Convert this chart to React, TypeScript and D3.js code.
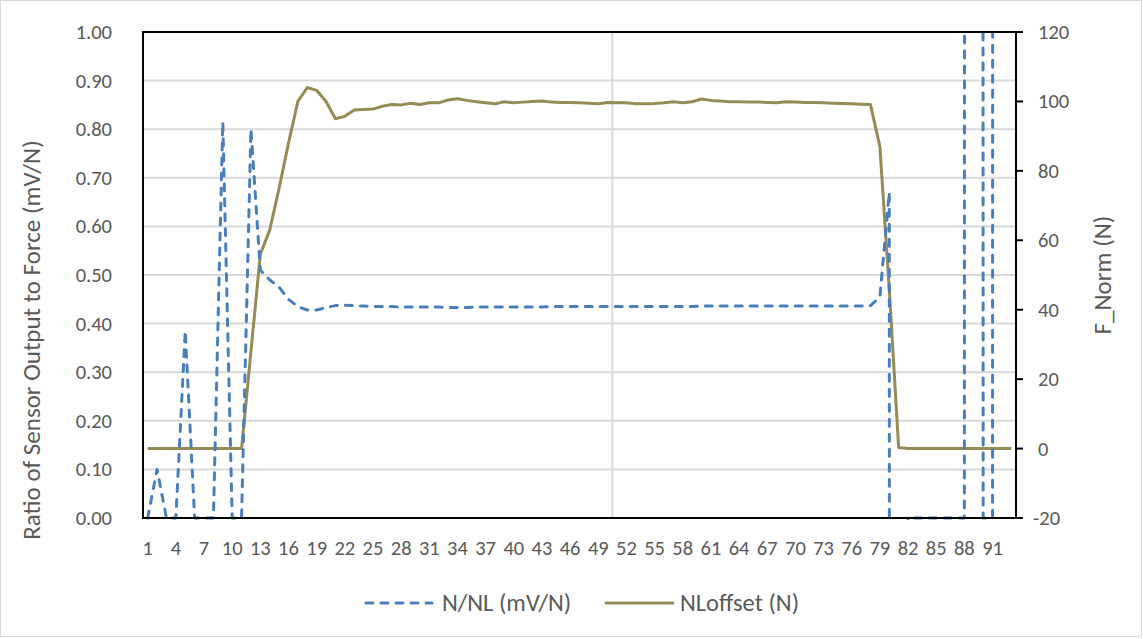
import React from "react";
import * as d3 from "d3";

// categories 1..93 along the x axis
const categories = d3.range(1, 94);

// N/NL (mV/N) - left axis, dashed blue
const ratioValues = [
  0, 0.1, 0, 0, 0.385, 0, 0, 0, 0.815, 0,
  0, 0.8, 0.51, 0.49, 0.475, 0.45, 0.435, 0.428, 0.428, 0.433,
  0.437, 0.438, 0.437, 0.436, 0.435, 0.435, 0.435, 0.434, 0.434, 0.434,
  0.434, 0.434, 0.433, 0.433, 0.433, 0.434, 0.434, 0.434, 0.434, 0.434,
  0.434, 0.434, 0.434, 0.435, 0.435, 0.435, 0.435, 0.435, 0.435, 0.435,
  0.435, 0.435, 0.435, 0.435, 0.435, 0.435, 0.435, 0.435, 0.435, 0.436,
  0.436, 0.436, 0.436, 0.436, 0.436, 0.436, 0.436, 0.436, 0.436, 0.436,
  0.436, 0.436, 0.436, 0.436, 0.436, 0.436, 0.436, 0.437, 0.455, 0.67,
  -60, 0, 0, 0, 0, 0, 0, 0, 80, 0,
  0, 80, 80,
];

// NLoffset (N) - right axis, olive
const offsetValues = [
  0, 0, 0, 0, 0, 0, 0, 0, 0, 0,
  0, 28, 56, 63, 75, 88, 100, 104, 103.2, 100,
  95, 95.7, 97.5, 97.7, 97.8, 98.6, 99.1, 99.0, 99.5, 99.1,
  99.6, 99.6, 100.4, 100.8, 100.3, 99.9, 99.6, 99.3, 99.9, 99.6,
  99.8, 100.0, 100.1, 99.8, 99.7, 99.7, 99.6, 99.5, 99.3, 99.7,
  99.6, 99.6, 99.3, 99.3, 99.4, 99.6, 99.9, 99.6, 99.9, 100.7,
  100.3, 100.1, 99.9, 99.9, 99.8, 99.8, 99.7, 99.6, 99.9, 99.8,
  99.7, 99.7, 99.6, 99.5, 99.4, 99.3, 99.2, 99.1, 87, 46,
  0.3, 0, 0, 0, 0, 0, 0, 0, 0, 0,
  0, 0, 0,
];

const leftTicks = [0, 0.1, 0.2, 0.3, 0.4, 0.5, 0.6, 0.7, 0.8, 0.9, 1.0];
const rightTicks = [-20, 0, 20, 40, 60, 80, 100, 120];
const xTickLabels = categories.filter((c) => (c - 1) % 3 === 0);

const seriesNames = ["N/NL (mV/N)", "NLoffset (N)"];

const W = 1143;
const H = 639;
const left = 143;
const right = 1016;
const top = 32;
const bottom = 518;

const BLUE = "#4a7ebb";
const OLIVE = "#958b56";
const TEXT = "#595959";
const FONT = "Carlito, Calibri, Lato, 'Liberation Sans', sans-serif";

export default function App() {
  const xScale = d3
    .scaleBand<number>()
    .domain(categories)
    .range([left, right])
    .padding(0);
  const cx = (c: number) => (xScale(c) as number) + xScale.bandwidth() / 2;

  const yLeft = d3.scaleLinear().domain([0, 1]).range([bottom, top]);
  const yRight = d3.scaleLinear().domain([-20, 120]).range([bottom, top]);

  const ratioLine = d3
    .line<number>()
    .x((_, i) => cx(categories[i]))
    .y((d) => yLeft(d));

  const offsetLine = d3
    .line<number>()
    .x((_, i) => cx(categories[i]))
    .y((d) => yRight(d));

  // the single vertical grid line between categories 50 and 51
  const vLineX = xScale(51) as number;

  return (
    <svg
      width={W}
      height={H}
      style={{ position: "absolute", left: 0, top: 0, background: "#fff" }}
      fontFamily={FONT}
    >
      <defs>
        <clipPath id="plotClip">
          <rect x={left} y={top} width={right - left} height={bottom - top + 2} />
        </clipPath>
      </defs>

      {/* chart border */}
      <rect x={0.5} y={0.5} width={W - 2} height={H - 3} fill="none" stroke="#d9d9d9" />

      {/* gridlines */}
      {leftTicks.map((t) => (
        <line
          key={t}
          x1={left}
          x2={right}
          y1={yLeft(t)}
          y2={yLeft(t)}
          stroke="#d9d9d9"
          strokeWidth={2}
        />
      ))}
      <line x1={vLineX} x2={vLineX} y1={top} y2={bottom} stroke="#d9d9d9" strokeWidth={2} />

      {/* series */}
      <g clipPath="url(#plotClip)">
        <path
          d={offsetLine(offsetValues) || ""}
          fill="none"
          stroke={OLIVE}
          strokeWidth={3}
          strokeLinejoin="round"
        />
        <path
          d={ratioLine(ratioValues) || ""}
          fill="none"
          stroke={BLUE}
          strokeWidth={3}
          strokeDasharray="7 8"
          strokeLinecap="round"
          strokeLinejoin="round"
        />
      </g>

      {/* plot frame */}
      <rect
        x={left}
        y={top}
        width={right - left}
        height={bottom - top}
        fill="none"
        stroke="#000"
        strokeWidth={2}
      />

      {/* right axis ticks */}
      {rightTicks.map((t) => (
        <line key={t} x1={right} x2={right + 7} y1={yRight(t)} y2={yRight(t)} stroke="#000" strokeWidth={2} />
      ))}

      {/* left tick labels */}
      {leftTicks.map((t) => (
        <text
          key={t}
          x={112}
          y={yLeft(t)}
          textAnchor="end"
          dominantBaseline="central"
          fontSize={20.5}
          fill={TEXT}
        >
          {t.toFixed(2)}
        </text>
      ))}

      {/* right tick labels */}
      {rightTicks.map((t) => (
        <text
          key={t}
          x={t < 0 ? 1033 : 1038}
          y={yRight(t)}
          dominantBaseline="central"
          fontSize={20.5}
          fill={TEXT}
        >
          {t}
        </text>
      ))}

      {/* x tick labels */}
      {xTickLabels.map((c) => (
        <text
          key={c}
          x={cx(c)}
          y={548}
          textAnchor="middle"
          dominantBaseline="central"
          fontSize={20.5}
          fill={TEXT}
        >
          {c}
        </text>
      ))}

      {/* axis titles */}
      <text
        transform="translate(31, 340) rotate(-90)"
        textAnchor="middle"
        dominantBaseline="central"
        fontSize={25}
        fill={TEXT}
      >
        Ratio of Sensor Output to Force (mV/N)
      </text>
      <text
        transform="translate(1102, 275) rotate(-90)"
        textAnchor="middle"
        dominantBaseline="central"
        fontSize={25}
        fill={TEXT}
      >
        F_Norm (N)
      </text>

      {/* legend */}
      <g>
        <line
          x1={366}
          x2={432}
          y1={603}
          y2={603}
          stroke={BLUE}
          strokeWidth={3}
          strokeDasharray="7 8"
          strokeLinecap="round"
        />
        <text x={442} y={603} dominantBaseline="central" fontSize={24.5} fill={TEXT}>
          {seriesNames[0]}
        </text>
        <line x1={606} x2={673} y1={603} y2={603} stroke={OLIVE} strokeWidth={3} strokeLinecap="round" />
        <text x={680} y={603} dominantBaseline="central" fontSize={24.5} fill={TEXT}>
          {seriesNames[1]}
        </text>
      </g>
    </svg>
  );
}
